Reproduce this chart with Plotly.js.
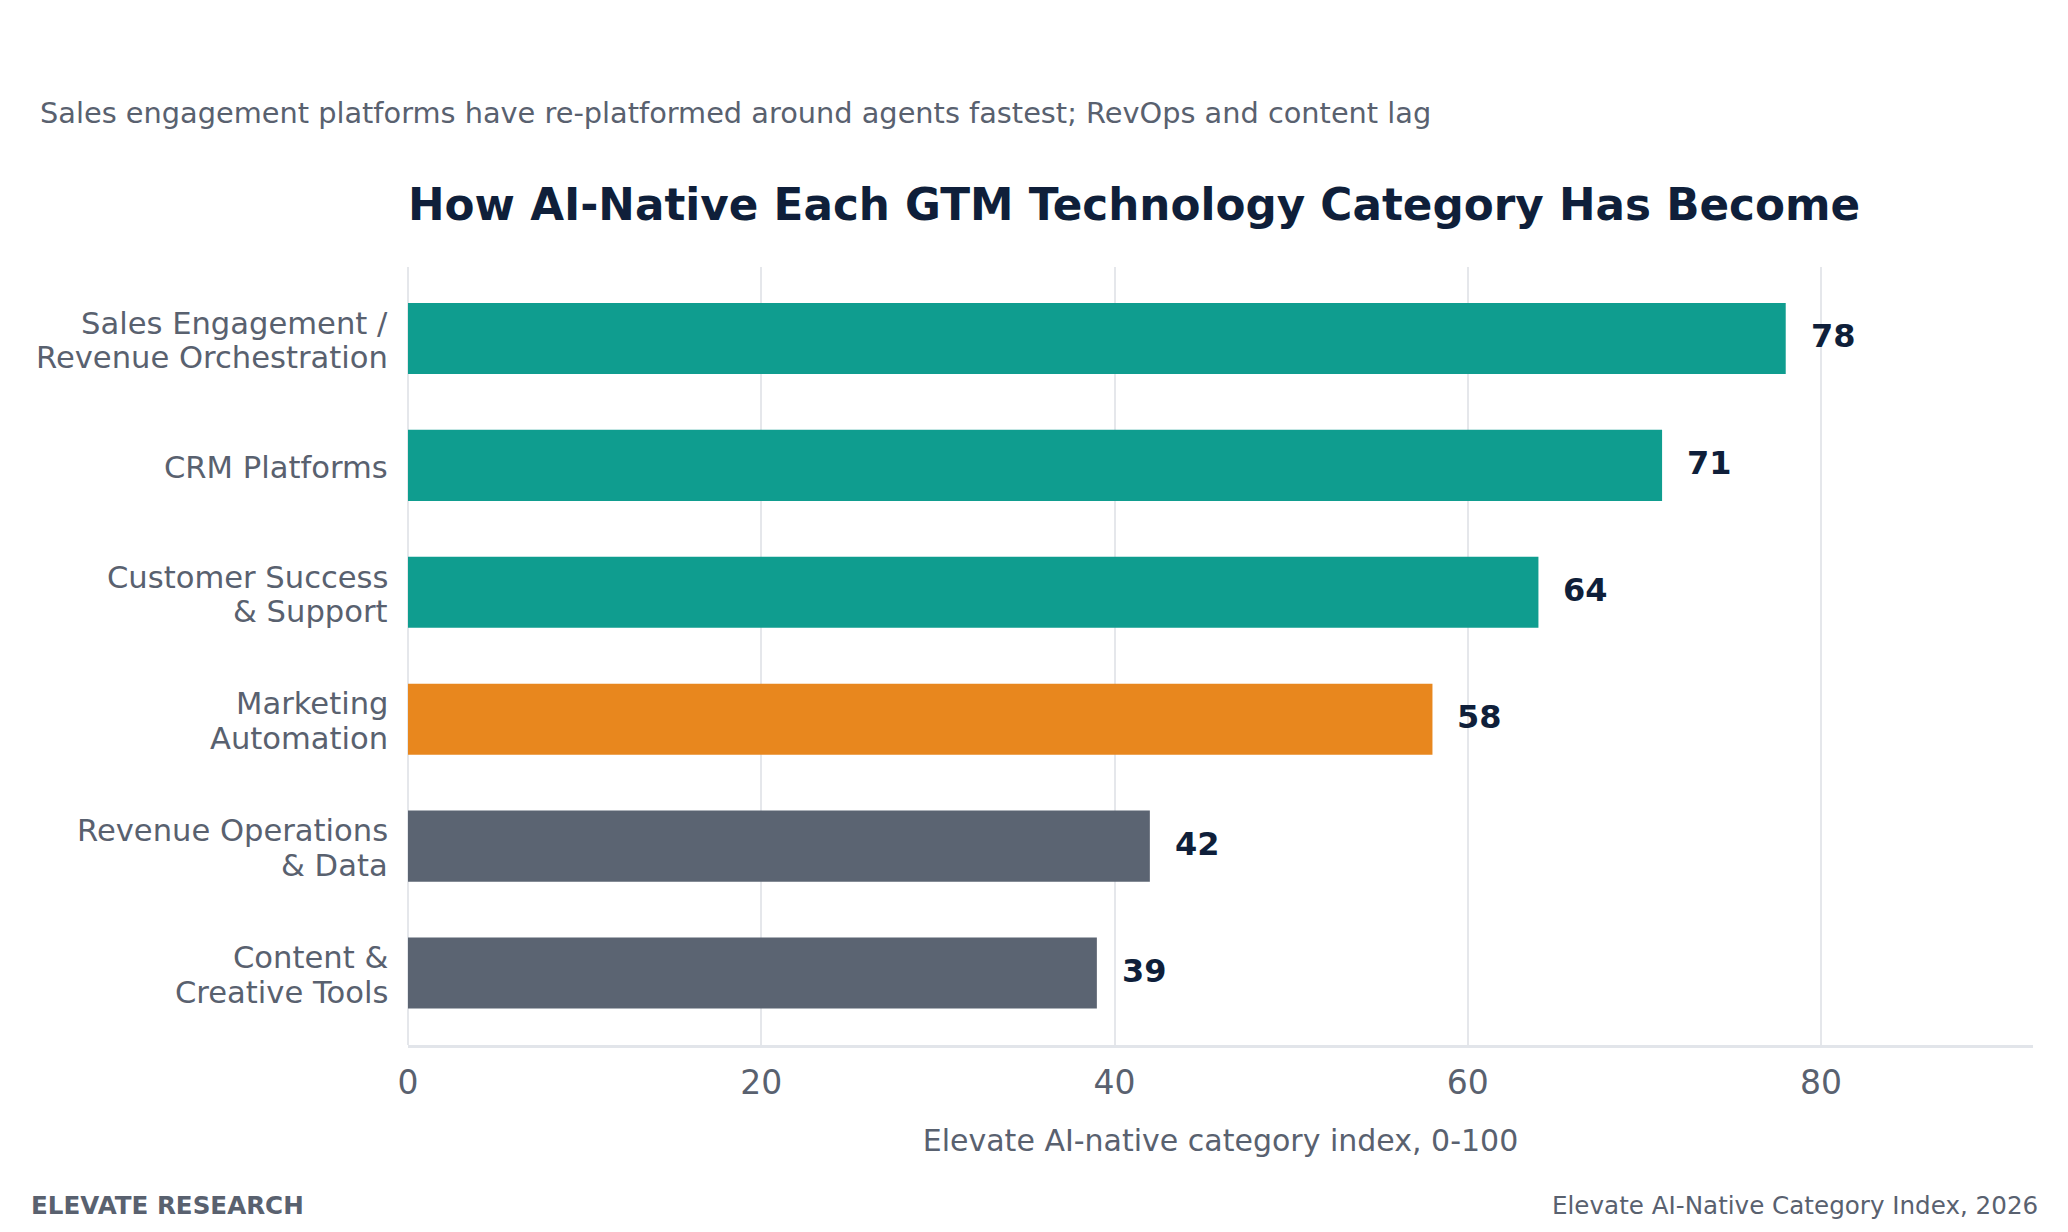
<!DOCTYPE html>
<html>
<head>
<meta charset="utf-8">
<script src="https://cdn.plot.ly/plotly-3.0.1.min.js"></script>
<style>
  html, body { margin: 0; padding: 0; background: #ffffff; }
  #chart { width: 2068px; height: 1232px; }
</style>
</head>
<body>
<div id="chart"></div>
<script>
// category index values, top to bottom
var categories = [
    'Sales Engagement /<br>Revenue Orchestration',
    'CRM Platforms',
    'Customer Success<br>& Support',
    'Marketing<br>Automation',
    'Revenue Operations<br>& Data',
    'Content &<br>Creative Tools'
];
var scores = [78, 71, 64, 58, 42, 39];
var barColors = ['#0f9d8f', '#0f9d8f', '#0f9d8f', '#e8871e', '#5b6472', '#5b6472'];
var xTicks = [0, 20, 40, 60, 80];

var FONT = 'DejaVu Sans, Verdana, sans-serif';
var INK = '#0f1f3a';
var GREY = '#59616f';
var LINE_GAP = 34.5;   // tighter than plotly's 1.3em tick label spacing

var trace = {
    type: 'bar',
    orientation: 'h',
    x: scores,
    y: categories,
    width: 0.56,
    marker: { color: barColors, line: { width: 0 } },
    hoverinfo: 'x+y'
};

// value labels to the right of each bar
var valueNotes = scores.map(function (v, i) {
    return {
        x: v, y: categories[i], xref: 'x', yref: 'y',
        text: '<b>' + v + '</b>',
        showarrow: false, xanchor: 'left', yanchor: 'middle',
        xshift: 23, yshift: 2,
        font: { family: FONT, size: 32, color: INK }
    };
});

// category labels, one annotation per line so the line spacing can be set
var catNotes = [];
categories.forEach(function (c) {
    var lines = c.split('<br>');
    lines.forEach(function (ln, j) {
        catNotes.push({
            xref: 'paper', yref: 'y', x: 0, y: c,
            text: ln,
            showarrow: false, xanchor: 'right', yanchor: 'middle',
            xshift: -18,
            yshift: ((lines.length - 1) / 2 - j) * LINE_GAP - 2,
            font: { family: FONT, size: 30.6, color: GREY }
        });
    });
});

var notes = valueNotes.concat(catNotes, [
    {
        xref: 'paper', yref: 'paper', x: -0.2274, y: 1.198,
        xanchor: 'left', yanchor: 'middle', showarrow: false,
        text: 'Sales engagement platforms have re-platformed around agents fastest; RevOps and content lag',
        font: { family: FONT, size: 28.8, color: GREY }
    },
    {
        xref: 'paper', yref: 'paper', x: -0.2330, y: -0.2057,
        xanchor: 'left', yanchor: 'middle', showarrow: false,
        text: '<b>ELEVATE RESEARCH</b>',
        font: { family: FONT, size: 24.6, color: GREY }
    },
    {
        xref: 'paper', yref: 'paper', x: 1.0043, y: -0.2057,
        xanchor: 'right', yanchor: 'middle', showarrow: false,
        text: 'Elevate AI-Native Category Index, 2026',
        font: { family: FONT, size: 24.6, color: GREY }
    }
]);

var layout = {
    width: 2068,
    height: 1232,
    paper_bgcolor: '#ffffff',
    plot_bgcolor: '#ffffff',
    margin: { l: 408, r: 35, t: 267, b: 187 },
    showlegend: false,
    font: { family: FONT, color: GREY },
    title: {
        text: '<b>How AI-Native Each GTM Technology Category Has Become</b>',
        font: { family: FONT, size: 43.7, color: INK },
        x: 0, xref: 'paper', xanchor: 'left',
        y: 0.834, yanchor: 'middle'
    },
    xaxis: {
        range: [0, 92],
        tickvals: xTicks,
        ticktext: xTicks.map(String),
        showgrid: true,
        gridcolor: '#e5e7eb',
        gridwidth: 2,
        zeroline: true,
        zerolinecolor: '#e5e7eb',
        zerolinewidth: 2,
        showline: true,
        linecolor: '#e2e5ea',
        linewidth: 3,
        ticks: '',
        ticklabelstandoff: 6,
        tickfont: { family: FONT, size: 33, color: GREY },
        title: {
            text: 'Elevate AI-native category index, 0-100',
            font: { family: FONT, size: 30, color: GREY },
            standoff: 30
        },
        fixedrange: true
    },
    yaxis: {
        type: 'category',
        categoryorder: 'array',
        categoryarray: categories,
        range: [5.567, -0.563],
        showgrid: false,
        zeroline: false,
        showline: false,
        ticks: '',
        showticklabels: false,
        fixedrange: true
    },
    annotations: notes
};

Plotly.newPlot('chart', [trace], layout, { displayModeBar: false, staticPlot: true });
</script>
</body>
</html>
